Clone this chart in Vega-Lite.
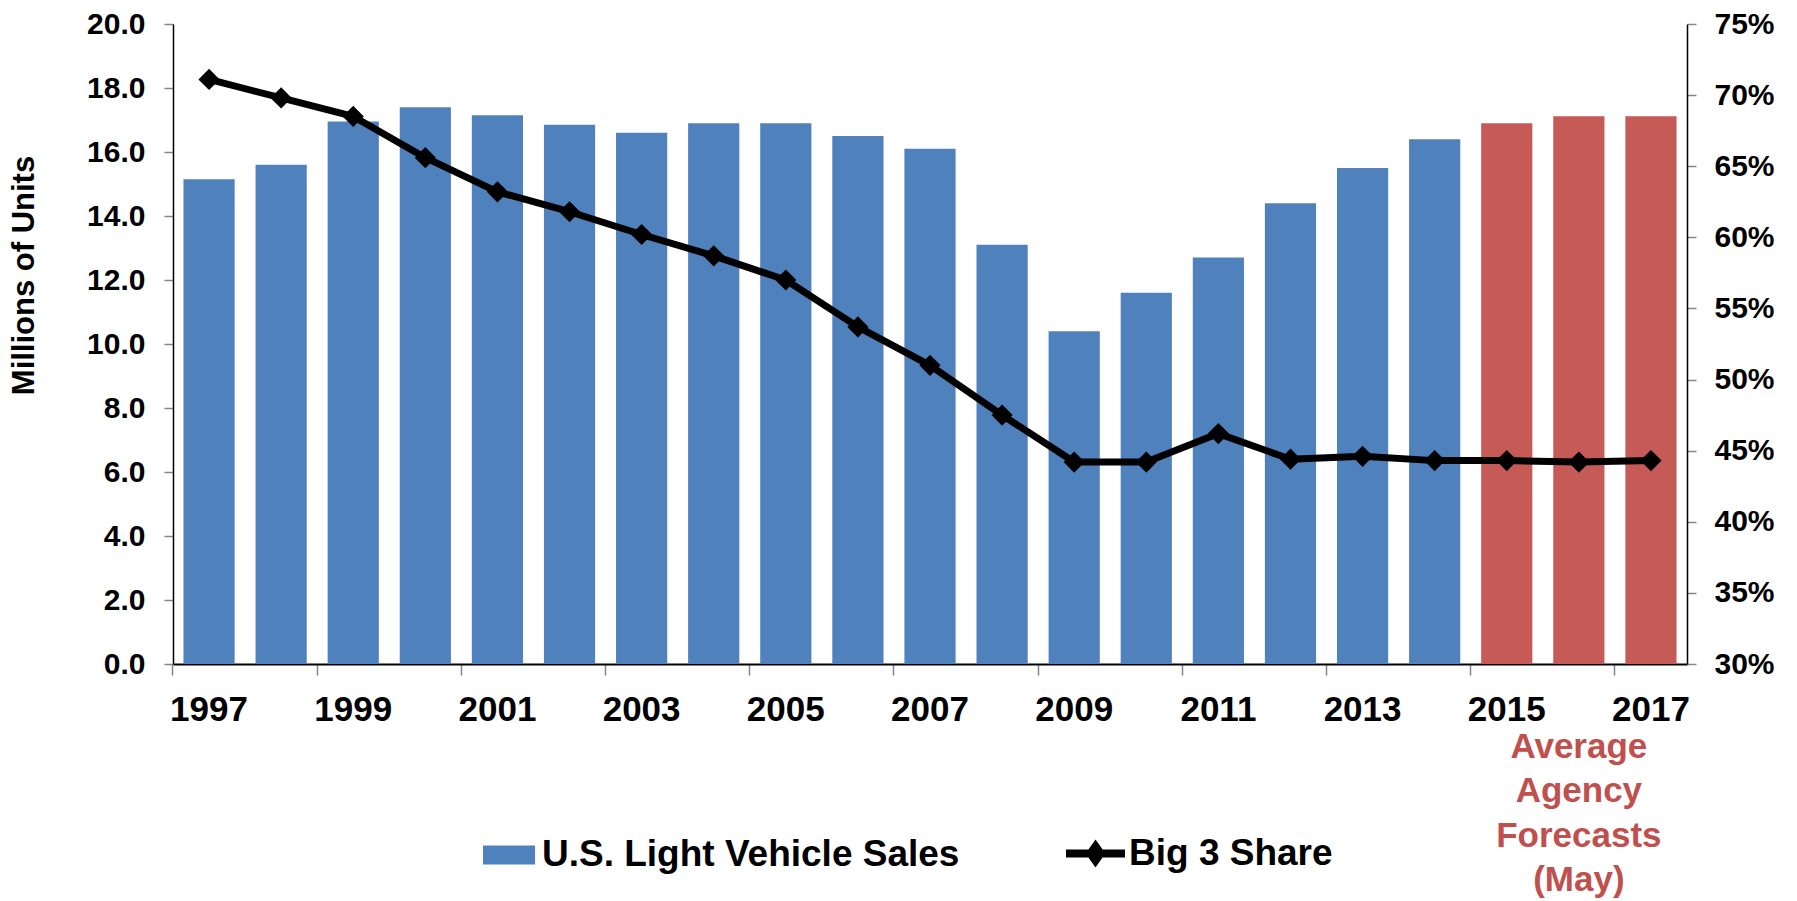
{
  "$schema": "https://vega.github.io/schema/vega-lite/v6.json",
  "width": 1514,
  "height": 640,
  "autosize": {"type": "none"},
  "padding": {"left": 173, "top": 24, "right": 110, "bottom": 237},
  "background": "white",
  "config": {
    "view": {"stroke": null},
    "font": "Liberation Sans",
    "axis": {"labelFont": "Liberation Sans", "labelFontWeight": "bold", "labelColor": "#000", "grid": false, "domainColor": "#000", "tickColor": "#868686", "tickWidth": 1.5}
  },
  "data": {
    "values": [
      {"year": 1997, "sales": 15.15, "share": 0.711, "type": "U.S. Light Vehicle Sales"},
      {"year": 1998, "sales": 15.6, "share": 0.698, "type": "U.S. Light Vehicle Sales"},
      {"year": 1999, "sales": 16.95, "share": 0.685, "type": "U.S. Light Vehicle Sales"},
      {"year": 2000, "sales": 17.4, "share": 0.656, "type": "U.S. Light Vehicle Sales"},
      {"year": 2001, "sales": 17.15, "share": 0.632, "type": "U.S. Light Vehicle Sales"},
      {"year": 2002, "sales": 16.85, "share": 0.618, "type": "U.S. Light Vehicle Sales"},
      {"year": 2003, "sales": 16.6, "share": 0.602, "type": "U.S. Light Vehicle Sales"},
      {"year": 2004, "sales": 16.9, "share": 0.587, "type": "U.S. Light Vehicle Sales"},
      {"year": 2005, "sales": 16.9, "share": 0.570, "type": "U.S. Light Vehicle Sales"},
      {"year": 2006, "sales": 16.5, "share": 0.537, "type": "U.S. Light Vehicle Sales"},
      {"year": 2007, "sales": 16.1, "share": 0.510, "type": "U.S. Light Vehicle Sales"},
      {"year": 2008, "sales": 13.1, "share": 0.475, "type": "U.S. Light Vehicle Sales"},
      {"year": 2009, "sales": 10.4, "share": 0.442, "type": "U.S. Light Vehicle Sales"},
      {"year": 2010, "sales": 11.6, "share": 0.442, "type": "U.S. Light Vehicle Sales"},
      {"year": 2011, "sales": 12.7, "share": 0.462, "type": "U.S. Light Vehicle Sales"},
      {"year": 2012, "sales": 14.4, "share": 0.444, "type": "U.S. Light Vehicle Sales"},
      {"year": 2013, "sales": 15.5, "share": 0.446, "type": "U.S. Light Vehicle Sales"},
      {"year": 2014, "sales": 16.4, "share": 0.443, "type": "U.S. Light Vehicle Sales"},
      {"year": 2015, "sales": 16.9, "share": 0.443, "type": "Forecast"},
      {"year": 2016, "sales": 17.12, "share": 0.442, "type": "Forecast"},
      {"year": 2017, "sales": 17.12, "share": 0.443, "type": "Forecast"}
    ]
  },
  "layer": [
    {
      "layer": [
        {
          "mark": {"type": "bar", "width": {"band": 0.71}},
          "encoding": {
            "x": {
              "field": "year", "type": "ordinal",
              "scale": {"paddingInner": 0, "paddingOuter": 0},
              "axis": {
                "title": null, "labelAngle": 0, "labelFontSize": 35, "labelPadding": 17,
                "tickSize": 11, "bandPosition": 0, "tickExtra": false,
                "labelOverlap": false, "labelFlush": false,
                "labelExpr": "datum.value % 2 == 1 ? datum.label : ''",
                "tickOpacity": {"condition": {"test": "datum.value % 2 == 0", "value": 0}, "value": 1},
                "domainWidth": 2
              }
            },
            "y": {
              "field": "sales", "type": "quantitative",
              "scale": {"domain": [0, 20], "nice": false},
              "axis": {
                "orient": "left",
                "values": [0, 2, 4, 6, 8, 10, 12, 14, 16, 18, 20],
                "format": ".1f", "labelFontSize": 30, "labelPadding": 19, "tickSize": 9,
                "domainWidth": 1.5,
                "title": "Millions of Units", "titleFont": "Liberation Sans", "titleFontWeight": "bold",
                "titleFontSize": 31, "titleColor": "#000", "titleAngle": -90,
                "titleX": -140, "titleY": 251, "titleAlign": "center", "titleBaseline": "alphabetic"
              }
            },
            "fill": {
              "field": "type", "type": "nominal",
              "scale": {"domain": ["U.S. Light Vehicle Sales", "Forecast"], "range": ["#4F81BD", "#C55A57"]},
              "legend": {
                "values": ["U.S. Light Vehicle Sales"],
                "title": null, "orient": "none", "legendX": 310, "legendY": 805, "padding": 0,
                "symbolType": "M-1,-0.365H1V0.365H-1Z", "symbolSize": 2704, "symbolStrokeWidth": 0,
                "labelFont": "Liberation Sans", "labelFontWeight": "bold",
                "labelFontSize": 37, "labelColor": "#000", "labelOffset": 7, "labelLimit": 0
              }
            }
          }
        },
        {
          "data": {"values": [{"year": 2016, "value": -2.06, "note": "Average\nAgency\nForecasts\n(May)"}]},
          "mark": {
            "type": "text", "lineBreak": "\n", "font": "Liberation Sans", "fontWeight": "bold",
            "fontSize": 35, "lineHeight": 44.5, "color": "#C0504D", "align": "center", "baseline": "top"
          },
          "encoding": {
            "x": {"field": "year", "type": "ordinal"},
            "y": {"field": "value", "type": "quantitative", "scale": {"domain": [0, 20], "nice": false}},
            "text": {"field": "note", "type": "nominal"}
          }
        }
      ]
    },
    {
      "layer": [
        {
          "mark": {"type": "line", "strokeWidth": 7, "strokeJoin": "round"},
          "encoding": {
            "x": {"field": "year", "type": "ordinal"},
            "y": {
              "field": "share", "type": "quantitative",
              "scale": {"domain": [0.3, 0.75], "nice": false},
              "axis": {
                "orient": "right", "title": null,
                "values": [0.3, 0.35, 0.4, 0.45, 0.5, 0.55, 0.6, 0.65, 0.7, 0.75],
                "format": ".0%", "labelFontSize": 30, "labelPadding": 18, "tickSize": 9, "domainWidth": 1.5
              }
            },
            "stroke": {
              "datum": "Big 3 Share",
              "scale": {"range": ["#000"]},
              "legend": {
                "title": null, "orient": "none", "legendX": 889, "legendY": 796, "padding": 0,
                "symbolType": "M-1,0H1M0,-0.24L0.17,0L0,0.24L-0.17,0Z", "symbolSize": 3481,
                "symbolStrokeWidth": 8, "symbolStrokeColor": "#000", "symbolFillColor": "#000",
                "labelFont": "Liberation Sans", "labelFontWeight": "bold",
                "labelFontSize": 37, "labelColor": "#000", "labelOffset": 0, "labelLimit": 0
              }
            }
          }
        },
        {
          "mark": {"type": "point", "shape": "diamond", "filled": true, "color": "#000", "size": 450, "opacity": 1},
          "encoding": {
            "x": {"field": "year", "type": "ordinal"},
            "y": {"field": "share", "type": "quantitative", "scale": {"domain": [0.3, 0.75], "nice": false}}
          }
        }
      ]
    }
  ],
  "resolve": {"scale": {"y": "independent"}}
}
